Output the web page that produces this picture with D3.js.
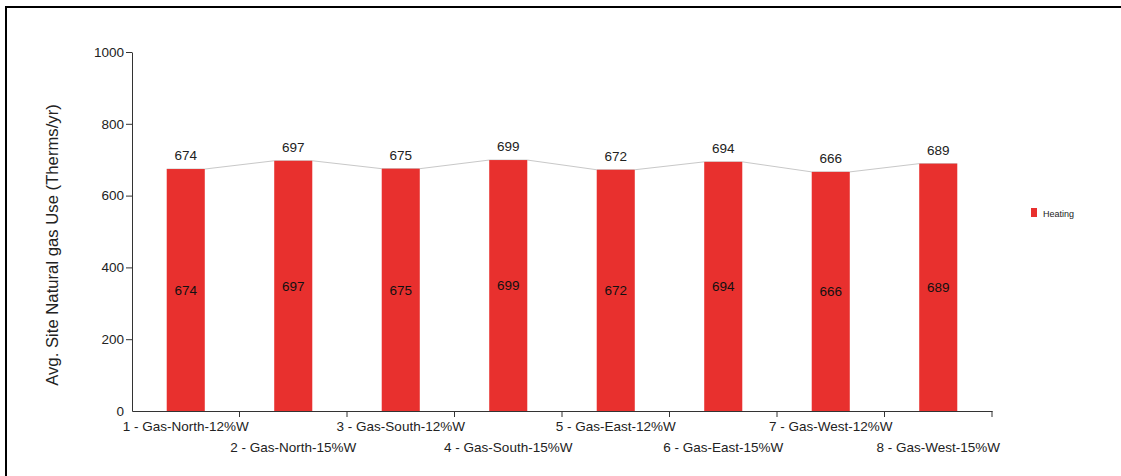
<!DOCTYPE html>
<html>
<head>
<meta charset="utf-8">
<script src="https://cdn.jsdelivr.net/npm/d3@7"></script>
<style>
  html, body { margin: 0; padding: 0; background: #fff; }
  svg { display: block; font-family: "Liberation Sans", Arial, sans-serif; }
</style>
</head>
<body>
<svg id="chart" width="1121" height="476"></svg>
<script>
// Scenario names along the x axis
const categories = [
  "1 - Gas-North-12%W", "2 - Gas-North-15%W",
  "3 - Gas-South-12%W", "4 - Gas-South-15%W",
  "5 - Gas-East-12%W", "6 - Gas-East-15%W",
  "7 - Gas-West-12%W", "8 - Gas-West-15%W"
];
// Heating natural gas use per scenario (Therms/yr)
const heating = [674, 697, 675, 699, 672, 694, 666, 689];
const yTicks = [0, 200, 400, 600, 800, 1000];
const seriesName = "Heating";
const yLabel = "Avg. Site Natural gas Use (Therms/yr)";

(function () {
  const svg = d3.select("#chart");
  const barColor = "#e8302e";
  const fs = 13.5;

  // Outer frame
  svg.append("rect")
    .attr("x", 6).attr("y", 7)
    .attr("width", 1300).attr("height", 700)
    .attr("fill", "none").attr("stroke", "#000").attr("stroke-width", 2);

  const plotLeft = 132, plotRight = 992, plotTop = 52, plotBottom = 411;

  const x = d3.scaleBand().domain(categories).range([plotLeft, plotRight]).padding(0);
  const y = d3.scaleLinear().domain([0, 1000]).range([plotBottom, plotTop]);
  const barW = x.bandwidth() * 0.354;

  // Y axis
  const yAxis = svg.append("g")
    .attr("transform", `translate(${plotLeft},0)`)
    .call(d3.axisLeft(y).tickValues(yTicks).tickFormat(d3.format("d"))
      .tickSize(6).tickSizeOuter(0).tickPadding(2));
  yAxis.selectAll("text").attr("font-size", fs).attr("fill", "#222").attr("font-family", null);
  yAxis.selectAll("line, path").attr("stroke", "#333");
  yAxis.selectAll(".tick").filter(d => d === 0).select("line").remove();

  // X axis: ticks sit on band boundaries, labels centred under bars
  const xAxis = svg.append("g")
    .attr("transform", `translate(0,${plotBottom})`)
    .call(d3.axisBottom(x).tickSize(6).tickSizeOuter(0).tickPadding(4));
  xAxis.selectAll(".tick line").attr("x1", x.bandwidth() / 2).attr("x2", x.bandwidth() / 2);
  xAxis.selectAll("line, path").attr("stroke", "#333");
  xAxis.selectAll("text")
    .attr("font-size", fs).attr("fill", "#222").attr("font-family", null)
    .attr("y", (d, i) => i % 2 === 0 ? 10 : 31);

  // Y axis title
  svg.append("text")
    .attr("transform", `translate(58,245) rotate(-90)`)
    .attr("text-anchor", "middle")
    .attr("font-size", 16.7).attr("fill", "#222")
    .text(yLabel);

  const cx = d => x(d) + x.bandwidth() / 2;

  // Connector line between bar tops
  const pts = [];
  categories.forEach((c, i) => {
    pts.push([cx(c) - barW / 2, y(heating[i])]);
    pts.push([cx(c) + barW / 2, y(heating[i])]);
  });
  svg.append("path")
    .attr("d", d3.line()(pts))
    .attr("fill", "none").attr("stroke", "#c8c8c8").attr("stroke-width", 1);

  // Bars
  svg.append("g").selectAll("rect")
    .data(heating)
    .join("rect")
    .attr("x", (d, i) => cx(categories[i]) - barW / 2)
    .attr("y", d => y(d))
    .attr("width", barW)
    .attr("height", d => y(0) - y(d))
    .attr("fill", barColor);

  // Value labels above bars
  svg.append("g").selectAll("text")
    .data(heating)
    .join("text")
    .attr("x", (d, i) => cx(categories[i]))
    .attr("y", d => y(d) - 9)
    .attr("text-anchor", "middle")
    .attr("font-size", fs).attr("fill", "#222")
    .text(d => d);

  // Value labels inside bars
  svg.append("g").selectAll("text")
    .data(heating)
    .join("text")
    .attr("x", (d, i) => cx(categories[i]))
    .attr("y", d => (y(d) + y(0)) / 2)
    .attr("dy", "0.35em")
    .attr("text-anchor", "middle")
    .attr("font-size", fs).attr("fill", "#111")
    .text(d => d);

  // Legend
  const legend = svg.append("g").attr("transform", "translate(1031,208)");
  legend.append("rect").attr("width", 6).attr("height", 9).attr("fill", barColor);
  legend.append("text").attr("x", 12).attr("y", 8.5)
    .attr("font-size", 9).attr("fill", "#222").text(seriesName);
})();
</script>
</body>
</html>
